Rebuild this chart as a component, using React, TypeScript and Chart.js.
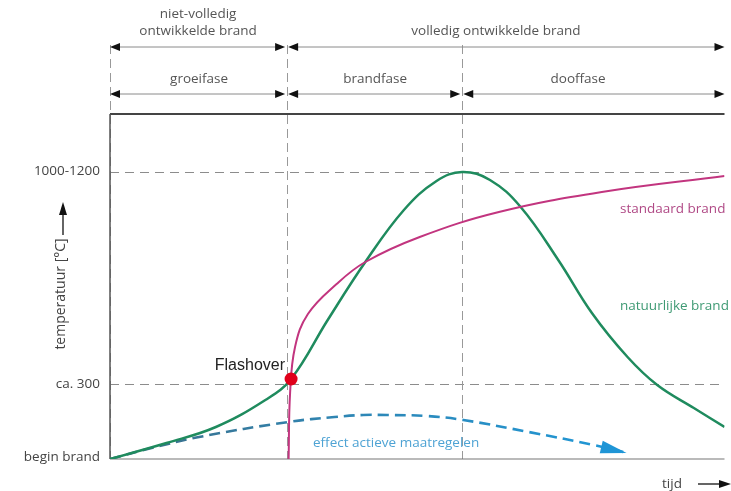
import React, { useEffect, useRef } from 'react';
import { Chart, registerables } from 'chart.js';

Chart.register(...registerables);

// ---- data (tijd in arbitrary minutes, temperatuur in °C) ----
const natuurlijkeTijd = [0, 11.4, 21.4, 31.4, 36.6, 44, 51.6, 59.4, 66, 71.2, 76.8, 83, 90.6, 97.4, 104.6, 110.6, 118, 124.2];
const natuurlijkeTemp = [0, 64, 128, 236, 320, 556, 788, 996, 1112, 1148, 1116, 1008, 796, 584, 408, 296, 204, 128];

const standaardTijd = [36.1, 36.4, 37.4, 40, 45.8, 51.6, 62.6, 78.6, 99.4, 124.2];
const standaardTemp = [0, 264, 448, 580, 700, 788, 888, 988, 1068, 1132];

const maatregelTijd = [0, 8, 18, 36, 45.4, 51.2, 56, 64, 71.4, 84.6, 97.8, 103.8];
const maatregelTemp = [0, 42, 88, 148, 168, 176, 176, 172, 156, 108, 56, 28];

const flashoverTijd = 36.6;
const flashoverTemp = 320;

const refTemps = [300, 1150];
const refLabels = ['ca. 300', '1000-1200'];
const beginLabel = 'begin brand';

const phaseBounds = [0, 35.8, 71.2, 124.2];
const phaseLabels = ['groeifase', 'brandfase', 'dooffase'];
const phaseLabelCenters = [18, 53.6, 94.6];
const developLabels = [['niet-volledig', 'ontwikkelde brand'], ['volledig ontwikkelde brand']];
const developLabelCenters = [17.8, 78];

const T_MAX = 124.2;
const Y_MAX = 1380;

const FONT = '"Open Sans", "DejaVu Sans", sans-serif';

function xy(ts: number[], vs: number[]) {
  return ts.map((t, i) => ({ x: t, y: vs[i] }));
}

function head(ctx: CanvasRenderingContext2D, tipX: number, tipY: number, dx: number, dy: number, len: number, half: number) {
  const n = Math.hypot(dx, dy) || 1;
  const ux = dx / n, uy = dy / n;
  const bx = tipX - ux * len, by = tipY - uy * len;
  ctx.beginPath();
  ctx.moveTo(tipX, tipY);
  ctx.lineTo(bx - uy * half, by + ux * half);
  ctx.lineTo(bx + uy * half, by - ux * half);
  ctx.closePath();
  ctx.fill();
}

function seg(ctx: CanvasRenderingContext2D, x1: number, y1: number, x2: number, y2: number) {
  ctx.beginPath();
  ctx.moveTo(x1, y1);
  ctx.lineTo(x2, y2);
  ctx.stroke();
}

function dimArrow(ctx: CanvasRenderingContext2D, xa: number, xb: number, y: number) {
  ctx.strokeStyle = '#8a8a8a';
  ctx.lineWidth = 1;
  seg(ctx, xa + 4, y, xb - 4, y);
  ctx.fillStyle = '#111';
  head(ctx, xa, y, -1, 0, 10, 4);
  head(ctx, xb, y, 1, 0, 10, 4);
}

const brandPlugin = {
  id: 'brandPlugin',
  beforeDatasetsDraw(chart: any) {
    const { ctx, chartArea: a, scales } = chart;
    const x = scales.x, y = scales.y;
    ctx.save();
    ctx.strokeStyle = '#8c8c8c';
    ctx.lineWidth = 1;
    ctx.setLineDash([9, 6]);
    refTemps.forEach((v) => {
      const py = Math.round(y.getPixelForValue(v)) + 0.5;
      seg(ctx, a.left, py, a.right, py);
    });
    ctx.strokeStyle = '#999';
    ctx.setLineDash([9, 5]);
    phaseBounds.slice(0, 3).forEach((t) => {
      const px = Math.round(x.getPixelForValue(t)) + 0.5;
      seg(ctx, px, 45, px, a.bottom);
    });
    ctx.setLineDash([]);
    ctx.strokeStyle = '#444';
    ctx.lineWidth = 2;
    seg(ctx, a.left, a.top, a.right, a.top);
    ctx.strokeStyle = '#555';
    ctx.lineWidth = 1.5;
    seg(ctx, a.left, a.top, a.left, a.bottom);
    ctx.strokeStyle = '#777';
    ctx.lineWidth = 1.2;
    seg(ctx, a.left, a.bottom, a.right, a.bottom);
    ctx.restore();
  },
  afterDatasetsDraw(chart: any) {
    const { ctx, scales } = chart;
    const x = scales.x, y = scales.y;
    ctx.save();

    const bx = phaseBounds.map((t) => x.getPixelForValue(t));
    dimArrow(ctx, bx[0], bx[1] - 2, 47);
    dimArrow(ctx, bx[1] + 1, bx[3], 47);
    dimArrow(ctx, bx[0], bx[1] - 2, 94);
    dimArrow(ctx, bx[1] + 1, bx[2] - 2, 94);
    dimArrow(ctx, bx[2] + 1, bx[3], 94);

    ctx.fillStyle = '#555';
    ctx.font = `13.5px ${FONT}`;
    ctx.textAlign = 'center';
    ctx.textBaseline = 'middle';
    developLabels.forEach((lines, i) => {
      const cx = x.getPixelForValue(developLabelCenters[i]);
      if (lines.length === 2) {
        ctx.fillText(lines[0], cx, 14);
        ctx.fillText(lines[1], cx, 31);
      } else {
        ctx.fillText(lines[0], cx, 31);
      }
    });
    phaseLabels.forEach((l, i) => {
      ctx.fillText(l, x.getPixelForValue(phaseLabelCenters[i]), 79);
    });

    // y tick labels
    ctx.fillStyle = '#444';
    ctx.textAlign = 'right';
    refTemps.forEach((v, i) => {
      ctx.fillText(refLabels[i], 100, y.getPixelForValue(v));
    });
    ctx.fillText(beginLabel, 100, y.getPixelForValue(0) - 2);

    // y title with arrow
    ctx.save();
    ctx.translate(61, 294);
    ctx.rotate(-Math.PI / 2);
    ctx.textAlign = 'center';
    ctx.font = `14px ${FONT}`;
    ctx.fillText('temperatuur [°C]', 0, 0);
    ctx.restore();
    ctx.strokeStyle = '#111';
    ctx.lineWidth = 1.3;
    seg(ctx, 63, 235, 63, 212);
    ctx.fillStyle = '#111';
    head(ctx, 63, 202, 0, -1, 13, 4);

    // x title with arrow
    ctx.fillStyle = '#444';
    ctx.textAlign = 'center';
    ctx.fillText('tijd', 672, 484);
    seg(ctx, 698, 484, 720, 484);
    ctx.fillStyle = '#111';
    head(ctx, 731, 484, 1, 0, 12, 4);

    // series labels
    ctx.textAlign = 'left';
    ctx.fillStyle = '#b04a86';
    ctx.fillText('standaard brand', 620, 209);
    ctx.fillStyle = '#3f9a74';
    ctx.fillText('natuurlijke brand', 620, 306);
    ctx.fillStyle = '#4ea3d4';
    ctx.fillText('effect actieve maatregelen', 313, 443);

    // blue arrow head
    const n = maatregelTijd.length;
    const ex = x.getPixelForValue(maatregelTijd[n - 1]);
    const ey = y.getPixelForValue(maatregelTemp[n - 1]);
    const px = x.getPixelForValue(maatregelTijd[n - 2]);
    const py = y.getPixelForValue(maatregelTemp[n - 2]);
    ctx.fillStyle = '#1f95d6';
    head(ctx, ex + 3, ey + 1, ex - px, ey - py, 26, 6.5);

    // Flashover label
    ctx.fillStyle = '#222';
    ctx.textAlign = 'right';
    ctx.font = `16px "Liberation Sans", Arial, sans-serif`;
    ctx.fillText('Flashover', 285, 366);

    ctx.restore();
  },
};

export default function App() {
  const ref = useRef<HTMLCanvasElement | null>(null);

  useEffect(() => {
    if (!ref.current) return;
    const chart = new Chart(ref.current, {
      type: 'line',
      data: {
        datasets: [
          {
            label: 'Flashover',
            data: [{ x: flashoverTijd, y: flashoverTemp }],
            showLine: false,
            pointRadius: 6.5,
            pointBackgroundColor: '#e0001a',
            pointBorderWidth: 0,
            pointBorderColor: '#e0001a',
          },
          {
            label: 'standaard brand',
            data: xy(standaardTijd, standaardTemp),
            borderColor: '#c2357f',
            borderWidth: 2,
            tension: 0.4,
            pointRadius: 0,
          },
          {
            label: 'natuurlijke brand',
            data: xy(natuurlijkeTijd, natuurlijkeTemp),
            borderColor: '#1f8b5e',
            borderWidth: 2.5,
            tension: 0.4,
            pointRadius: 0,
          },
          {
            label: 'effect actieve maatregelen',
            data: xy(maatregelTijd, maatregelTemp),
            borderColor: (c: any) => {
              const area = c.chart.chartArea;
              if (!area) return '#2a8fc8';
              const g = c.chart.ctx.createLinearGradient(area.left, 0, area.left + 520, 0);
              g.addColorStop(0, '#3d6c84');
              g.addColorStop(0.45, '#2f86b4');
              g.addColorStop(1, '#1f98d8');
              return g;
            },
            borderWidth: 2.6,
            borderDash: [11, 6],
            tension: 0.4,
            pointRadius: 0,
          },
        ],
      },
      options: {
        responsive: false,
        animation: false,
        layout: { padding: { left: 110, top: 114, right: 0, bottom: 32 } },
        plugins: { legend: { display: false }, tooltip: { enabled: false } },
        scales: {
          x: { type: 'linear', min: 0, max: T_MAX, display: false },
          y: { type: 'linear', min: 0, max: Y_MAX, display: false },
        },
      },
      plugins: [brandPlugin],
    } as any);
    return () => chart.destroy();
  }, []);

  return (
    <div style={{ position: 'absolute', left: 0, top: 0, width: 731, height: 491, background: '#fff' }}>
      <canvas ref={ref} width={731} height={491} style={{ display: 'block' }} />
    </div>
  );
}
